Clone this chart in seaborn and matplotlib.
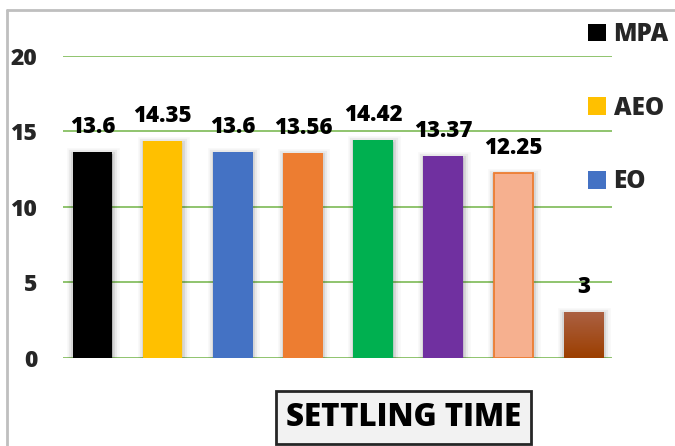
import numpy as np
import pandas as pd
import seaborn as sns
import matplotlib
matplotlib.use("Agg")
import matplotlib.pyplot as plt
from matplotlib import patheffects as pe
from matplotlib.lines import Line2D
from matplotlib.patches import Patch

# Settling time of each optimiser (one bar per algorithm)
positions = [0, 1, 2, 3, 4, 5, 6, 7]
settling_time = [13.6, 14.35, 13.6, 13.56, 14.42, 13.37, 12.25, 3]
value_labels = ["13.6", "14.35", "13.6", "13.56", "14.42", "13.37", "12.25", "3"]
legend_labels = ["MPA", "AEO", "EO"]
bar_colors = ["#000000", "#FFC000", "#4472C4", "#ED7D31",
              "#00B050", "#7030A0", "#F6B08F", "#A0430E"]
y_ticks = [0, 5, 10, 15, 20]

sns.set_style("white")
plt.rcParams["font.family"] = ["Open Sans", "DejaVu Sans"]
plt.rcParams["font.weight"] = "heavy"
W = "heavy"

fig = plt.figure(figsize=(6.75, 4.46), dpi=100)
ax = fig.add_axes([63 / 675, 1 - 357.7 / 446, (612 - 63) / 675, (357.7 - 55.7) / 446])

df = pd.DataFrame({"pos": positions, "val": settling_time})
sns.barplot(data=df, x="pos", y="val", hue="pos", palette=bar_colors,
            legend=False, width=0.563, saturation=1, ax=ax, zorder=3)

soft_shadow = [
    pe.Stroke(linewidth=9, foreground="black", alpha=0.03, offset=(0.5, -1.5)),
    pe.Stroke(linewidth=6, foreground="black", alpha=0.05, offset=(0.5, -1.5)),
    pe.Stroke(linewidth=3, foreground="black", alpha=0.08, offset=(0.5, -1.5)),
    pe.Normal(),
]
for i, bar in enumerate(ax.patches):
    bar.set_linewidth(0)
    bar.set_path_effects(soft_shadow)
    if i == 6:
        bar.set_edgecolor("#ED7D31")
        bar.set_linewidth(1.3)

# Shaded fill on the last bar, light at the top and darker at the base
last = ax.patches[7]
x0, y0 = last.get_x(), last.get_y()
w, h = last.get_width(), last.get_height()
grad = np.linspace(0, 1, 64).reshape(-1, 1)
cmap = matplotlib.colors.LinearSegmentedColormap.from_list("brown", ["#9C3F00", "#AB6042"])
img = ax.imshow(grad, cmap=cmap, origin="lower", aspect="auto",
                extent=(x0, x0 + w, y0, y0 + h), zorder=3.5)
img.set_clip_path(last)

for i, (x, v) in enumerate(zip(positions, settling_time)):
    ax.annotate(value_labels[i], (x, v), xytext=(0, 13.7), textcoords="offset points",
                ha="center", va="baseline", fontsize=16, fontweight=W,
                color="black", zorder=5)

ax.set_xlim(-0.42, 7.406)
ax.set_ylim(0, 20)
ax.set_yticks(y_ticks)
ax.set_yticklabels([str(t) for t in y_ticks], fontsize=16.5, fontweight=W)
ax.set_xticks([])
ax.set_xlabel("")
ax.set_ylabel("")
ax.tick_params(axis="y", length=0, pad=18.5)
ax.yaxis.grid(True, color="#8FC46E", linewidth=1.4, zorder=0)
ax.set_axisbelow(True)
for s in ax.spines.values():
    s.set_visible(False)
ax.patch.set_alpha(0)

handles = [Patch(facecolor=c, edgecolor="none") for c in bar_colors[:3]]
fig.legend(handles, legend_labels, loc="upper left", bbox_to_anchor=(588 / 675, 1 - 22 / 446),
           frameon=False, prop={"weight": W, "size": 17.5}, labelspacing=2.0,
           handlelength=0.75, handleheight=0.75, handletextpad=0.3, borderpad=0,
           borderaxespad=0)

fig.text(403.5 / 675, 1 - 417.5 / 446, "SETTLING TIME", ha="center", va="center",
         fontsize=22.5, fontweight=W, color="black",
         bbox=dict(boxstyle="square,pad=0.33", facecolor="#F2F2F2",
                   edgecolor="#262626", linewidth=2))

# Outer frame (top and left edges)
fig.add_artist(Line2D([7 / 675, 7 / 675], [0, 1 - 10 / 446], transform=fig.transFigure,
                      color="#BFBFBF", linewidth=2))
fig.add_artist(Line2D([7 / 675, 1], [1 - 10 / 446, 1 - 10 / 446], transform=fig.transFigure,
                      color="#BFBFBF", linewidth=2))

fig.savefig("out.png", dpi=100)
